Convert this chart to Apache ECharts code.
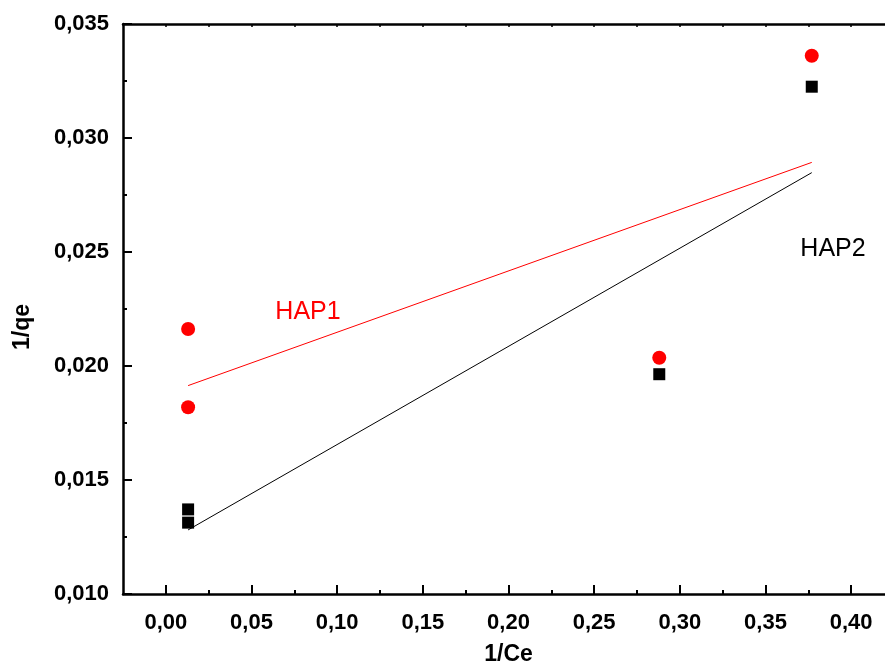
<!DOCTYPE html>
<html>
<head>
<meta charset="utf-8">
<script src="https://cdn.jsdelivr.net/npm/echarts@6/dist/echarts.min.js"></script>
<style>html,body{margin:0;padding:0;background:#fff;}#c{width:885px;height:672px;}</style>
</head>
<body>
<div id="c"></div>
<script>
// Data
const ceInv = [0.013, 0.013, 0.288, 0.377];
const hap1 = [0.02162, 0.01819, 0.02036, 0.03361];
const hap2 = [0.01371, 0.01313, 0.01964, 0.03225];
const fitX = [0.013, 0.377];
const fit1Y = [0.01914, 0.02893];
const fit2Y = [0.01281, 0.02848];
const xMajor = [0, 0.05, 0.10, 0.15, 0.20, 0.25, 0.30, 0.35, 0.40];
const xMinor = [0.025, 0.075, 0.125, 0.175, 0.225, 0.275, 0.325, 0.375];
const yTicks = [0.010, 0.015, 0.020, 0.025, 0.030, 0.035];

const FONT = 'Liberation Sans, Arial, sans-serif';
const pair = (xs, ys) => xs.map((x, i) => [x, ys[i]]);

const chart = echarts.init(document.getElementById('c'), null, {renderer: 'canvas'});
const xBase = {type: 'value', min: -0.025, max: 0.425, splitLine: {show: false}};
chart.setOption({
  animation: false,
  backgroundColor: '#fff',
  grid: {left: 123, width: 771, top: 24, bottom: 78, containLabel: false, outerBoundsMode: 'none'},
  xAxis: [
    Object.assign({}, xBase, {
      position: 'bottom',
      name: '1/Ce', nameLocation: 'middle', nameGap: 49,
      nameTextStyle: {fontFamily: FONT, fontWeight: 'bold', fontSize: 23, color: '#000'},
      axisLine: {show: true, onZero: false, lineStyle: {color: '#000', width: 2.5}},
      axisTick: {show: true, inside: true, length: 9, lineStyle: {color: '#000', width: 2}, customValues: xMajor},
      axisLabel: {show: true, margin: 18, customValues: xMajor, fontFamily: FONT, fontWeight: 'bold', fontSize: 22, color: '#000',
        formatter: v => v.toFixed(2).replace('.', ',')}
    }),
    Object.assign({}, xBase, {
      position: 'bottom',
      axisLine: {show: false, onZero: false},
      axisTick: {show: true, inside: true, length: 4, lineStyle: {color: '#000', width: 2}, customValues: xMinor},
      axisLabel: {show: false}
    }),
    Object.assign({}, xBase, {
      position: 'top',
      axisLine: {show: true, onZero: false, lineStyle: {color: '#000', width: 2.5}},
      axisTick: {show: true, inside: true, length: 3, lineStyle: {color: '#000', width: 1.5}, customValues: xMajor.concat(xMinor)},
      axisLabel: {show: false}
    })
  ],
  yAxis: {
    type: 'value', min: 0.010, max: 0.035, interval: 0.005,
    splitLine: {show: false},
    axisLine: {show: true, onZero: false, lineStyle: {color: '#000', width: 2.5}},
    axisTick: {show: true, inside: true, length: 9, lineStyle: {color: '#000', width: 2}},
    minorTick: {show: true, splitNumber: 2, length: 4, lineStyle: {color: '#000', width: 2}},
    axisLabel: {show: true, margin: 14, fontFamily: FONT, fontWeight: 'bold', fontSize: 22, color: '#000',
      formatter: v => v.toFixed(3).replace('.', ',')}
  },
  graphic: [
    {type: 'text', x: 23, y: 327, rotation: Math.PI / 2,
      style: {text: '1/qe', fontFamily: FONT, fontWeight: 'bold', fontSize: 23, fill: '#000', textAlign: 'center', textVerticalAlign: 'middle'}},
    {type: 'text', x: 308, y: 312,
      style: {text: 'HAP1', fontFamily: FONT, fontSize: 25, fill: '#ff0000', textAlign: 'center', textVerticalAlign: 'middle'}},
    {type: 'text', x: 833, y: 249,
      style: {text: 'HAP2', fontFamily: FONT, fontSize: 25, fill: '#000', textAlign: 'center', textVerticalAlign: 'middle'}}
  ],
  series: [
    {name: 'HAP1 fit', type: 'line', xAxisIndex: 0, data: pair(fitX, fit1Y), symbol: 'none',
      lineStyle: {color: '#ff0000', width: 1}, z: 2},
    {name: 'HAP2 fit', type: 'line', xAxisIndex: 0, data: pair(fitX, fit2Y), symbol: 'none',
      lineStyle: {color: '#000', width: 1}, z: 2},
    {name: 'HAP1', type: 'scatter', xAxisIndex: 0, data: pair(ceInv, hap1), symbol: 'circle', symbolSize: 14,
      itemStyle: {color: '#ff0000', opacity: 1}, z: 3},
    {name: 'HAP2', type: 'scatter', xAxisIndex: 0, data: pair(ceInv, hap2), symbol: 'rect', symbolSize: 12,
      itemStyle: {color: '#000', opacity: 1}, z: 3}
  ]
});
</script>
</body>
</html>
